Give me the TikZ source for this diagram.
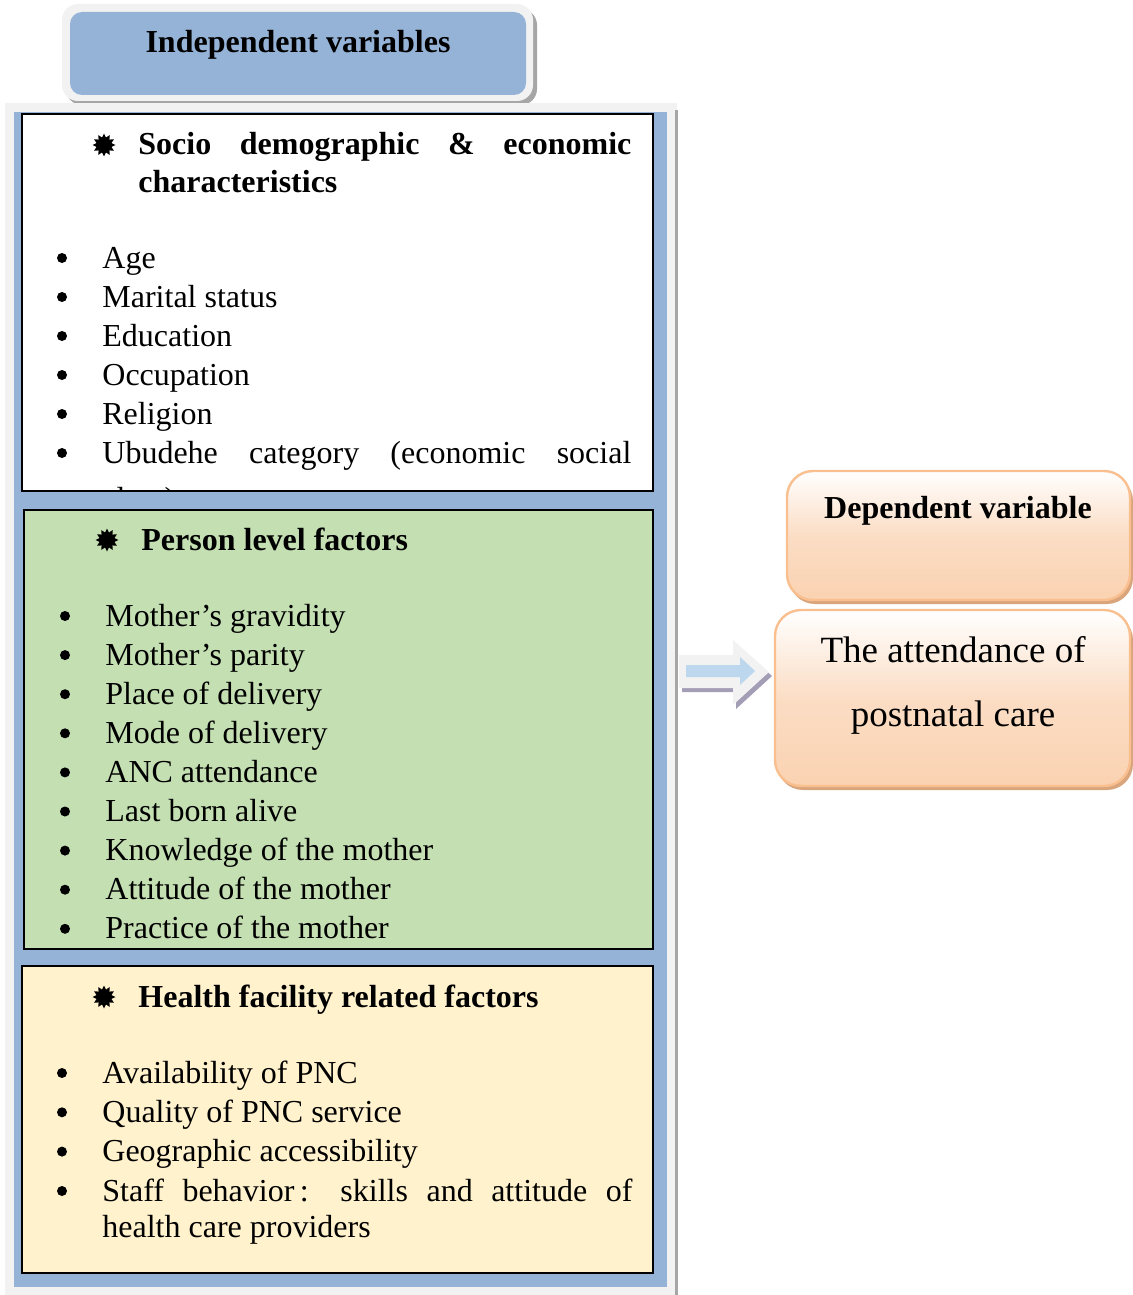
\documentclass[tikz,border=0pt]{standalone}
\usepackage{fontspec}
\setmainfont{Liberation Serif}
\usepackage{tikz}
\usetikzlibrary{
  positioning,
  shapes.geometric
}
\usepackage{xcolor}
\definecolor{panelblue}{HTML}{95B3D7}
\definecolor{framegray}{HTML}{F2F2F2}
\definecolor{shadegray}{HTML}{A6A6A6}
\definecolor{greenfill}{HTML}{C4DFB2}
\definecolor{yellowfill}{HTML}{FFF2CC}
\definecolor{peach}{HTML}{FAD2B1}
\definecolor{peachline}{HTML}{F9BF8F}
\definecolor{peachshade}{HTML}{D9A57C}
\definecolor{arrowblue}{HTML}{BDD7EE}
\definecolor{arrowshade}{HTML}{A39DB5}

\begin{document}
\begin{tikzpicture}[x=0.5pt,y=-0.5pt,
    txt/.style={anchor=base west,inner sep=0pt,font=\fontsize{16}{19}\selectfont},
    headtxt/.style={txt,font=\fontsize{16}{19}\selectfont\bfseries},
    dot/.style={circle,fill=black,inner sep=0pt,minimum size=5pt},
    burst/.style={star,star points=12,star point ratio=1.5,fill=black,inner sep=0pt,minimum size=11.5pt},
    factorbox/.style={draw=black,line width=1pt},
    peachbox/.style={draw=peachline,line width=1.2pt,rounded corners=13pt,
        top color=white,bottom color=peach,middle color=peach!75!white}
  ]

	    \useasboundingbox (0,0) rectangle (1133,1295);

	    % header
	    \fill[shadegray, rounded corners=8pt] (66,9) rectangle (537,105);
	    \fill[framegray, rounded corners=8pt] (62,4) rectangle (533,101);
	    \fill[panelblue, rounded corners=6pt] (70,12) rectangle (526,95);
	    \node[headtxt,anchor=base] (indep) at (298,53) {Independent variables};

	    % panel
	    \fill[framegray] (5,103) rectangle (677,1295);
	    \fill[shadegray] (675,110) rectangle (678,1295);
	    \fill[panelblue] (14,112) rectangle (667,1287);

	    % socio demographic
	    \draw[factorbox,fill=white] (22,114) rectangle (653,491);
	    \node[burst] (socstar) at (104,145) {};
	    \node[headtxt] (soc) at (138,155)
	        {\makebox[246.5pt][s]{Socio demographic \& economic}};
	    \node[headtxt] (soc2) at (138,192) {characteristics};
	    \foreach \lbl [count=\i] in {Age,Marital status,Education,Occupation,Religion}{
	        \node[dot] (sdot\i) at (62,{258+39*(\i-1)}) {};
	        \node[txt] (sitem\i) at (102,{268+39*(\i-1)}) {\lbl};
	    }
	    \node[dot] (sdot6) at (62,453) {};
	    \node[txt] (sitem6) at (102,463)
	        {\makebox[264.5pt][s]{Ubudehe category (economic social}};
	    \begin{scope}
	        \clip (22,114) rectangle (653,490);
	        \node[txt] (sitem7) at (102,509) {class)};
	    \end{scope}

	    % person level
	    \draw[factorbox,fill=greenfill] (24,510) rectangle (653,949);
	    \node[burst] (perstar) at (107,540) {};
	    \node[headtxt] (per) at (141,550) {Person level factors};
	    \foreach \lbl [count=\i] in {Mother’s gravidity,Mother’s parity,Place of delivery,
	        Mode of delivery,ANC attendance,Last born alive,Knowledge of the mother,
	        Attitude of the mother,Practice of the mother}{
	        \node[dot] (pdot\i) at (65,{616+39.1*(\i-1)}) {};
	        \node[txt] (pitem\i) at (105,{626+39.1*(\i-1)}) {\lbl};
	    }

	    % health facility
	    \draw[factorbox,fill=yellowfill] (22,966) rectangle (653,1273);
	    \node[burst] (hfstar) at (104,997) {};
	    \node[headtxt] (hf) at (138,1007) {Health facility related factors};
	    \foreach \lbl [count=\i] in {Availability of PNC,Quality of PNC service,
	        Geographic accessibility}{
	        \node[dot] (hdot\i) at (62,{1073+39.3*(\i-1)}) {};
	        \node[txt] (hitem\i) at (102,{1083+39.3*(\i-1)}) {\lbl};
	    }
	    \node[dot] (hdot4) at (62,1191) {};
	    \node[txt] (hitem4) at (102,1201)
	        {\makebox[265pt][s]{Staff behavior\,: skills and attitude of}};
	    \node[txt] (hitem5) at (102,1237) {health care providers};

	    % block arrow
	    \fill[arrowshade] (682,659) -- (736,659) -- (736,644) -- (772,676)
	        -- (736,709) -- (736,692) -- (682,692) -- cycle;
	    \fill[framegray] (679,655) -- (733,655) -- (733,640) -- (769,672)
	        -- (733,705) -- (733,688) -- (679,688) -- cycle;
	    \fill[arrowblue] (686,665) -- (740,665) -- (740,657) -- (755,671)
	        -- (740,685) -- (740,677) -- (686,677) -- cycle;

	    % dependent side
	    \fill[peachshade, rounded corners=13pt] (789,475) rectangle (1133,604);
	    \draw[peachbox] (787,471) rectangle (1130,600);
	    \node[headtxt,anchor=base] (dep) at (958,518) {Dependent variable};

	    \fill[peachshade, rounded corners=13pt] (777,614) rectangle (1133,790);
	    \draw[peachbox] (775,610) rectangle (1130,786);
	    \node[txt,anchor=base,font=\fontsize{18.5}{22}\selectfont] (pnc1) at (953,662) {The attendance of};
	    \node[txt,anchor=base,font=\fontsize{18.5}{22}\selectfont] (pnc2) at (953,726) {postnatal care};

	\end{tikzpicture}
\end{document}
